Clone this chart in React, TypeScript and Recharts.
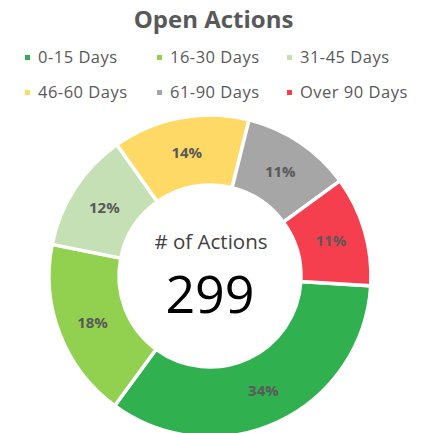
import React from 'react'
import { PieChart, Pie, Cell } from 'recharts'

const categories = ['0-15 Days', '16-30 Days', '31-45 Days', '46-60 Days', '61-90 Days', 'Over 90 Days']
const actionCounts = [102, 54, 36, 41, 33, 33]
const sliceColors = ['#31B04F', '#92D050', '#C5E0B4', '#FFD966', '#A6A6A6', '#F53F4E']

const FONT = '"Open Sans", "Noto Sans", sans-serif'

const chartData = categories.map((name, i) => ({ name, value: actionCounts[i] }))
const total = actionCounts.reduce((a, b) => a + b, 0)

const RADIAN = Math.PI / 180

function renderSliceLabel(props: any) {
  const { cx, cy, midAngle, innerRadius, outerRadius, percent } = props
  const r = (innerRadius + outerRadius) / 2
  const x = cx + r * Math.cos(-midAngle * RADIAN)
  const y = cy + r * Math.sin(-midAngle * RADIAN)
  return (
    <text
      x={x}
      y={y}
      textAnchor="middle"
      dominantBaseline="central"
      fill="#595959"
      fontSize={15}
      fontWeight="bold"
      fontFamily={FONT}
    >
      {`${Math.round(percent * 100)}%`}
    </text>
  )
}

function LegendGrid() {
  return (
    <div
      style={{
        position: 'absolute',
        top: 46,
        left: 25,
        display: 'grid',
        gridTemplateColumns: '132px 130px 130px',
        rowGap: 13,
        fontFamily: FONT,
        fontSize: 16.5,
        letterSpacing: 0.5,
        lineHeight: '22px',
        color: '#595959',
      }}
    >
      {categories.map((name, i) => (
        <div key={name} style={{ display: 'flex', alignItems: 'center', height: 22, whiteSpace: 'nowrap' }}>
          <span
            style={{
              display: 'inline-block',
              width: 5,
              height: 5,
              background: sliceColors[i],
              marginRight: 8,
            }}
          />
          {name}
        </div>
      ))}
    </div>
  )
}

export default function App() {
  return (
    <div style={{ position: 'absolute', left: 0, top: 0, width: 421, height: 433, background: '#fff', overflow: 'hidden' }}>
      <div
        style={{
          position: 'absolute',
          top: 2,
          left: 3,
          width: 421,
          textAlign: 'center',
          fontFamily: FONT,
          fontWeight: 'bold',
          fontSize: 24,
          color: '#595959',
        }}
      >
        Open Actions
      </div>
      <PieChart
        width={421}
        height={433}
        margin={{ top: 0, right: 0, bottom: 0, left: 0 }}
        style={{ position: 'absolute', left: 0, top: 0 }}
      >
        <Pie
          data={chartData}
          dataKey="value"
          nameKey="name"
          cx={210}
          cy={276}
          innerRadius={91}
          outerRadius={161}
          startAngle={-3.5}
          endAngle={-363.5}
          stroke="#ffffff"
          strokeWidth={3.5}
          label={renderSliceLabel}
          labelLine={false}
          isAnimationActive={false}
        >
          {chartData.map((d, i) => (
            <Cell key={d.name} fill={sliceColors[i]} />
          ))}
        </Pie>
      </PieChart>
      <LegendGrid />
      <div
        style={{
          position: 'absolute',
          left: 111,
          width: 200,
          top: 229,
          textAlign: 'center',
          fontFamily: FONT,
          color: '#404040',
          fontSize: 20.5,
          lineHeight: '24px',
        }}
      >
        # of Actions
      </div>
      <div
        style={{
          position: 'absolute',
          left: 110,
          width: 200,
          top: 263,
          textAlign: 'center',
          fontFamily: FONT,
          color: '#000000',
          fontSize: 52,
          lineHeight: '60px',
        }}
      >
        {total}
      </div>
    </div>
  )
}
